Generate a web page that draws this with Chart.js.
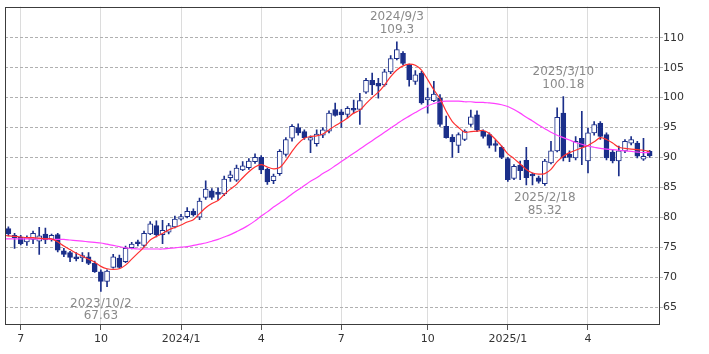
<!DOCTYPE html>
<html><head><meta charset="utf-8">
<script src="https://cdn.jsdelivr.net/npm/chart.js@4.4.1/dist/chart.umd.min.js"></script>
<style>html,body{margin:0;padding:0;background:#fff;overflow:hidden}canvas{display:block}</style>
</head><body>
<canvas id="c" width="709" height="354"></canvas>
<script>
// weekly candles, first week starting 2023-06-19
const firstWeekUTC = Date.UTC(2023, 5, 19);
const openP = [78.1,76.6,76.7,75.9,76.3,76.0,77.2,76.3,77.1,74.4,
74.1,73.4,73.2,73.4,72.3,70.9,69.3,71.6,73.2,72.6,
74.9,75.9,75.3,77.2,78.6,77.1,77.5,78.4,79.7,80.1,
81.0,80.0,83.3,84.4,84.2,83.9,86.6,86.2,87.9,88.3,
89.3,90.0,88.0,86.1,87.3,90.5,93.2,95.0,94.3,92.9,
92.3,93.7,94.4,98.0,97.6,97.2,98.2,98.0,100.9,102.9,
102.4,102.1,104.3,106.5,107.4,105.5,102.7,104.1,99.6,99.5,
99.9,95.2,93.4,92.0,93.0,95.5,97.1,94.4,93.8,92.3,
91.7,89.8,86.5,88.7,89.5,87.2,86.6,85.6,89.1,91.1,
97.4,90.5,89.9,93.2,89.4,94.1,95.7,93.8,90.9,89.4,
91.1,92.4,92.4,89.7,91.0];
const highP = [78.4,77.3,77.0,76.9,77.7,78.3,78.2,77.2,77.3,74.8,
74.3,74.1,74.1,74.1,72.7,71.2,71.2,73.8,73.7,75.2,
75.8,76.2,77.7,79.3,79.4,79.5,79.0,80.2,80.5,81.6,
81.4,83.2,86.1,84.8,84.9,86.9,87.7,88.7,89.3,89.8,
90.6,90.3,88.2,87.2,91.3,93.3,95.5,95.6,94.6,93.6,
94.6,95.0,97.8,99.1,98.0,98.5,99.6,100.7,103.2,104.1,
103.2,104.7,107.0,109.3,107.7,105.6,104.5,104.4,101.6,102.7,
100.5,96.9,93.8,94.1,94.6,97.9,97.8,94.6,94.1,92.9,
91.9,90.0,88.8,89.4,91.7,87.4,86.9,89.7,92.7,98.3,
100.18,91.1,93.5,97.7,94.9,96.0,96.0,94.1,91.3,91.9,
93.0,93.5,92.7,93.2,91.2];
const lowP = [76.9,74.8,75.4,75.3,75.6,73.8,75.6,76.0,74.2,73.4,
72.6,72.7,72.6,72.1,70.8,67.63,68.4,71.5,71.5,72.4,
74.7,75.2,75.0,77.1,76.7,75.6,77.2,78.2,79.5,79.9,
80.2,79.6,83.0,83.0,82.9,83.6,86.0,86.0,87.8,88.0,
89.0,87.3,85.5,85.6,87.0,90.2,92.7,93.7,93.0,90.8,
91.9,93.3,94.1,96.9,95.0,96.6,97.4,95.5,100.7,100.5,
99.9,101.9,104.0,106.3,105.5,101.9,102.2,98.9,97.4,99.3,
95.2,93.2,90.0,90.8,92.8,95.2,94.3,93.2,91.6,91.0,
89.8,86.0,86.3,86.3,85.4,85.4,85.7,85.32,88.9,90.9,
89.4,89.3,89.6,88.8,87.4,93.7,93.0,89.6,89.1,86.9,
90.8,92.1,89.9,89.5,90.0];
const closeP = [77.2,77.0,75.6,76.6,77.3,76.9,76.2,77.0,74.5,73.8,
73.3,73.1,73.6,72.3,70.9,69.3,71.0,73.4,71.6,74.8,
75.5,75.6,77.3,78.9,77.1,77.8,78.6,79.7,80.1,81.0,
80.4,82.7,84.7,83.3,83.8,86.4,87.1,88.2,88.6,89.4,
90.0,87.9,85.9,86.9,91.0,93.0,95.2,94.1,93.3,93.3,
93.9,94.6,97.4,97.0,97.1,98.2,97.9,99.5,102.9,102.1,
101.9,104.3,106.5,108.0,105.7,103.0,103.8,99.1,100.0,100.6,
95.5,93.3,92.6,93.8,94.4,96.8,94.6,93.5,92.0,92.0,
90.0,86.3,88.5,87.8,86.6,86.9,86.0,89.4,91.1,96.7,
89.9,90.0,92.7,91.7,94.1,95.5,93.5,89.9,89.4,91.1,
92.7,93.0,90.2,90.2,90.3];
// moving averages, starting one week before the first candle
const maShort = [77.0,
76.9,76.8,76.7,76.6,76.6,76.5,76.4,76.4,75.9,75.2,
74.6,74.0,73.5,73.0,72.5,71.8,71.4,71.3,71.4,72.0,
73.0,74.0,75.0,76.2,76.8,77.3,77.9,78.3,78.7,79.2,
79.6,80.6,81.6,82.3,82.8,83.8,84.7,85.5,86.6,87.6,
88.4,88.8,88.4,88.1,88.3,89.5,91.0,92.3,93.2,93.5,
93.6,93.9,94.6,95.3,95.9,96.6,97.4,97.9,99.0,100.0,
100.9,102.1,103.5,104.6,105.3,105.6,105.4,104.6,103.0,101.3,
99.8,97.7,96.0,95.0,94.2,94.3,94.4,94.5,94.0,93.0,
91.9,90.6,89.8,88.9,88.0,87.4,87.2,87.3,88.0,89.3,
90.2,90.8,91.2,91.6,92.0,92.6,93.3,93.0,92.4,91.7,
91.5,91.4,91.3,91.2,91.0];
const maLong = [76.4,
76.4,76.4,76.4,76.4,76.4,76.4,76.4,76.3,76.3,76.3,
76.2,76.1,76.0,75.9,75.8,75.7,75.5,75.3,75.1,74.9,
74.8,74.7,74.7,74.7,74.7,74.7,74.8,74.9,75.0,75.1,
75.3,75.5,75.7,76.0,76.3,76.7,77.1,77.6,78.1,78.7,
79.4,80.2,80.9,81.7,82.4,83.1,83.9,84.6,85.3,86.0,
86.6,87.3,87.9,88.6,89.3,90.0,90.7,91.4,92.1,92.8,
93.5,94.2,94.9,95.6,96.3,96.9,97.5,98.1,98.6,99.0,
99.3,99.4,99.4,99.4,99.3,99.3,99.2,99.2,99.1,99.0,
98.8,98.5,98.0,97.4,96.7,96.1,95.4,94.8,94.2,93.7,
93.3,92.9,92.5,92.2,91.9,91.7,91.5,91.4,91.3,91.2,
91.1,91.0,90.9,90.8,90.8];
const yTickValues = [65,70,75,80,85,90,95,100,105,110];
const notes = [
  {i:15, kind:'low',  date:'2023/10/2'},
  {i:63, kind:'high', date:'2024/9/3'},
  {i:87, kind:'low',  date:'2025/2/18'},
  {i:90, kind:'high', date:'2025/3/10'}
];

// month ticks (Jan/Apr/Jul/Oct) at the first weekly candle of the month
const tickIdx = [], tickLabels = [];
for (let i = 1; i < openP.length; i++) {
  const d = new Date(firstWeekUTC + i * 7 * 864e5), p = new Date(firstWeekUTC + (i - 1) * 7 * 864e5);
  const m = d.getUTCMonth();
  if (m !== p.getUTCMonth() && m % 3 === 0) {
    tickIdx.push(i);
    tickLabels.push(m === 0 ? d.getUTCFullYear() + '/1' : String(m + 1));
  }
}

const NAVY = '#1b2f8a';
const FONT = '"DejaVu Sans", Verdana, sans-serif';
const wicks = lowP.map((l, i) => ({x: i, y: [l, highP[i]]}));
const bodies = openP.map((o, i) => ({x: i, y: [Math.min(o, closeP[i]), Math.max(o, closeP[i])]}));
const up = openP.map((o, i) => closeP[i] >= o);

const framePlugin = {
  id: 'frame',
  afterDatasetsDraw(chart) {
    const {ctx, chartArea: a, scales: {x, y}} = chart;
    ctx.save();
    ctx.strokeStyle = '#3c3c3c'; ctx.lineWidth = 1;
    ctx.strokeRect(Math.round(a.left) + 0.5, Math.round(a.top) + 0.5,
      Math.round(a.right - a.left) - 1, Math.round(a.bottom - a.top) - 1);
    ctx.fillStyle = '#8a8a8a';
    ctx.font = '12px ' + FONT;
    ctx.textAlign = 'center'; ctx.textBaseline = 'middle';
    notes.forEach(n => {
      const px = x.getPixelForValue(n.i);
      if (n.kind === 'high') {
        const py = y.getPixelForValue(highP[n.i]);
        ctx.fillText(n.date, px, py - 25);
        ctx.fillText(String(highP[n.i]), px, py - 12);
      } else {
        const py = y.getPixelForValue(lowP[n.i]);
        ctx.fillText(n.date, px, py + 12.5);
        ctx.fillText(String(lowP[n.i]), px, py + 25);
      }
    });
    ctx.restore();
  }
};

new Chart(document.getElementById('c'), {
  type: 'bar',
  data: {
    datasets: [
      {type: 'line', data: maShort.map((v, k) => ({x: k - 1, y: v})), borderColor: '#ff3030',
       borderWidth: 1.2, pointRadius: 0, tension: 0.3, order: 0},
      {type: 'line', data: maLong.map((v, k) => ({x: k - 1, y: v})), borderColor: '#ff40ff',
       borderWidth: 1.2, pointRadius: 0, tension: 0.3, order: 1},
      {data: bodies, barThickness: 5, grouped: false, borderSkipped: false, borderWidth: 1,
       minBarLength: 1, borderColor: NAVY,
       backgroundColor: ctx => up[ctx.dataIndex] ? '#ffffff' : NAVY, order: 2},
      {data: wicks, barThickness: 1, grouped: false, borderWidth: 0,
       backgroundColor: NAVY, order: 3}
    ]
  },
  options: {
    responsive: false, animation: false, devicePixelRatio: 1,
    layout: {padding: {left: 5, top: 5, right: 0, bottom: 0}},
    plugins: {legend: {display: false}, tooltip: {enabled: false}},
    scales: {
      x: {
        type: 'linear', min: -0.55, max: 105.68, offset: false,
        afterBuildTicks: s => { s.ticks = tickIdx.map(v => ({value: v})); },
        afterFit: s => { s.height = 29; },
        ticks: {autoSkip: false, maxRotation: 0, padding: 3, color: '#333',
          font: {family: FONT, size: 11},
          callback: (v, idx) => tickLabels[idx]},
        grid: {color: '#dcdcdc', tickColor: '#555', tickLength: 5, offset: false},
        border: {display: false}
      },
      y: {
        type: 'linear', position: 'right', min: 62, max: 115.2,
        afterBuildTicks: s => { s.ticks = yTickValues.map(v => ({value: v})); },
        afterFit: s => { s.width = 49; },
        ticks: {padding: 0, color: '#333', font: {family: FONT, size: 11}},
        grid: {color: '#b0b0b0', tickColor: '#b0b0b0', tickLength: 3, tickBorderDash: [3, 2]},
        border: {display: false, dash: [3, 2]}
      }
    }
  },
  plugins: [framePlugin]
});
</script>
</body></html>
